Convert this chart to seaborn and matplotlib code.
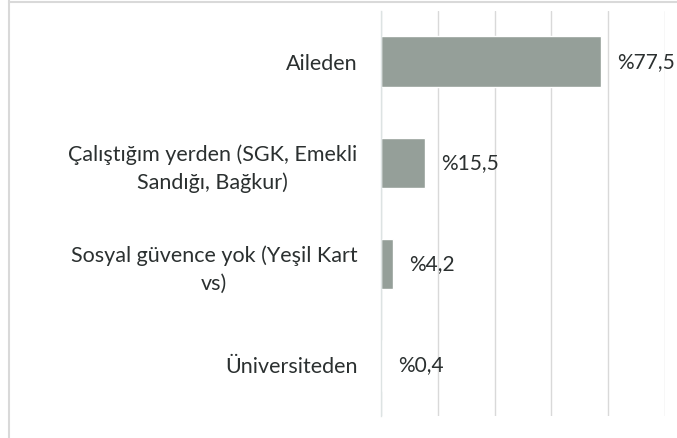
import matplotlib
matplotlib.use("Agg")
import matplotlib.pyplot as plt
import matplotlib.lines as mlines
import pandas as pd
import seaborn as sns

# data
categories = ["Aileden",
              "Çalıştığım yerden (SGK, Emekli\nSandığı, Bağkur)",
              "Sosyal güvence yok (Yeşil Kart\nvs)",
              "Üniversiteden"]
values = [77.5, 15.5, 4.2, 0.4]
value_labels = ["%77,5", "%15,5", "%4,2", "%0,4"]

df = pd.DataFrame({"kategori": categories, "oran": values})

sns.set_style("white")
plt.rcParams["font.family"] = ["Lato", "DejaVu Sans"]

fig = plt.figure(figsize=(6.77, 4.38), dpi=100)
ax = fig.add_axes([0.5628, 0.0502, 0.4195, 0.9247])

bar_color = "#959f99"
sns.barplot(data=df, x="oran", y="kategori", orient="h", color=bar_color,
            width=0.5, saturation=1, ax=ax)

ax.set_xlim(0, 100)
ax.set_ylim(3.5, -0.5)
ax.set_xticks(range(0, 101, 20))
ax.xaxis.grid(True, color="#d9d9d9", linewidth=1)
ax.set_axisbelow(True)
ax.set_xticklabels([])
ax.tick_params(axis="both", length=0)
ax.set_xlabel("")
ax.set_ylabel("")
for s in ["top", "right", "bottom"]:
    ax.spines[s].set_visible(False)
ax.spines["left"].set_color("#dde3e3")
ax.spines["left"].set_linewidth(1)

for lbl in ax.get_yticklabels():
    lbl.set_fontsize(15.5)
    lbl.set_color("#2b3030")
    lbl.set_multialignment("center")
    lbl.set_linespacing(1.45)
ax.tick_params(axis="y", pad=17)

for i, (v, t) in enumerate(zip(values, value_labels)):
    ax.annotate(t, xy=(v, i), xytext=(16, 0), textcoords="offset pixels",
                ha="left", va="center", fontsize=15, color="#2b3030")

# light frame on the left and top like the source image
fig.add_artist(mlines.Line2D([8.5 / 677, 8.5 / 677], [0, 1], transform=fig.transFigure,
                             color="#d9d9d9", linewidth=1.5))
fig.add_artist(mlines.Line2D([8.5 / 677, 1], [1 - 1.5 / 438, 1 - 1.5 / 438],
                             transform=fig.transFigure, color="#d9d9d9", linewidth=1.5))

fig.savefig("out.png", dpi=100)
